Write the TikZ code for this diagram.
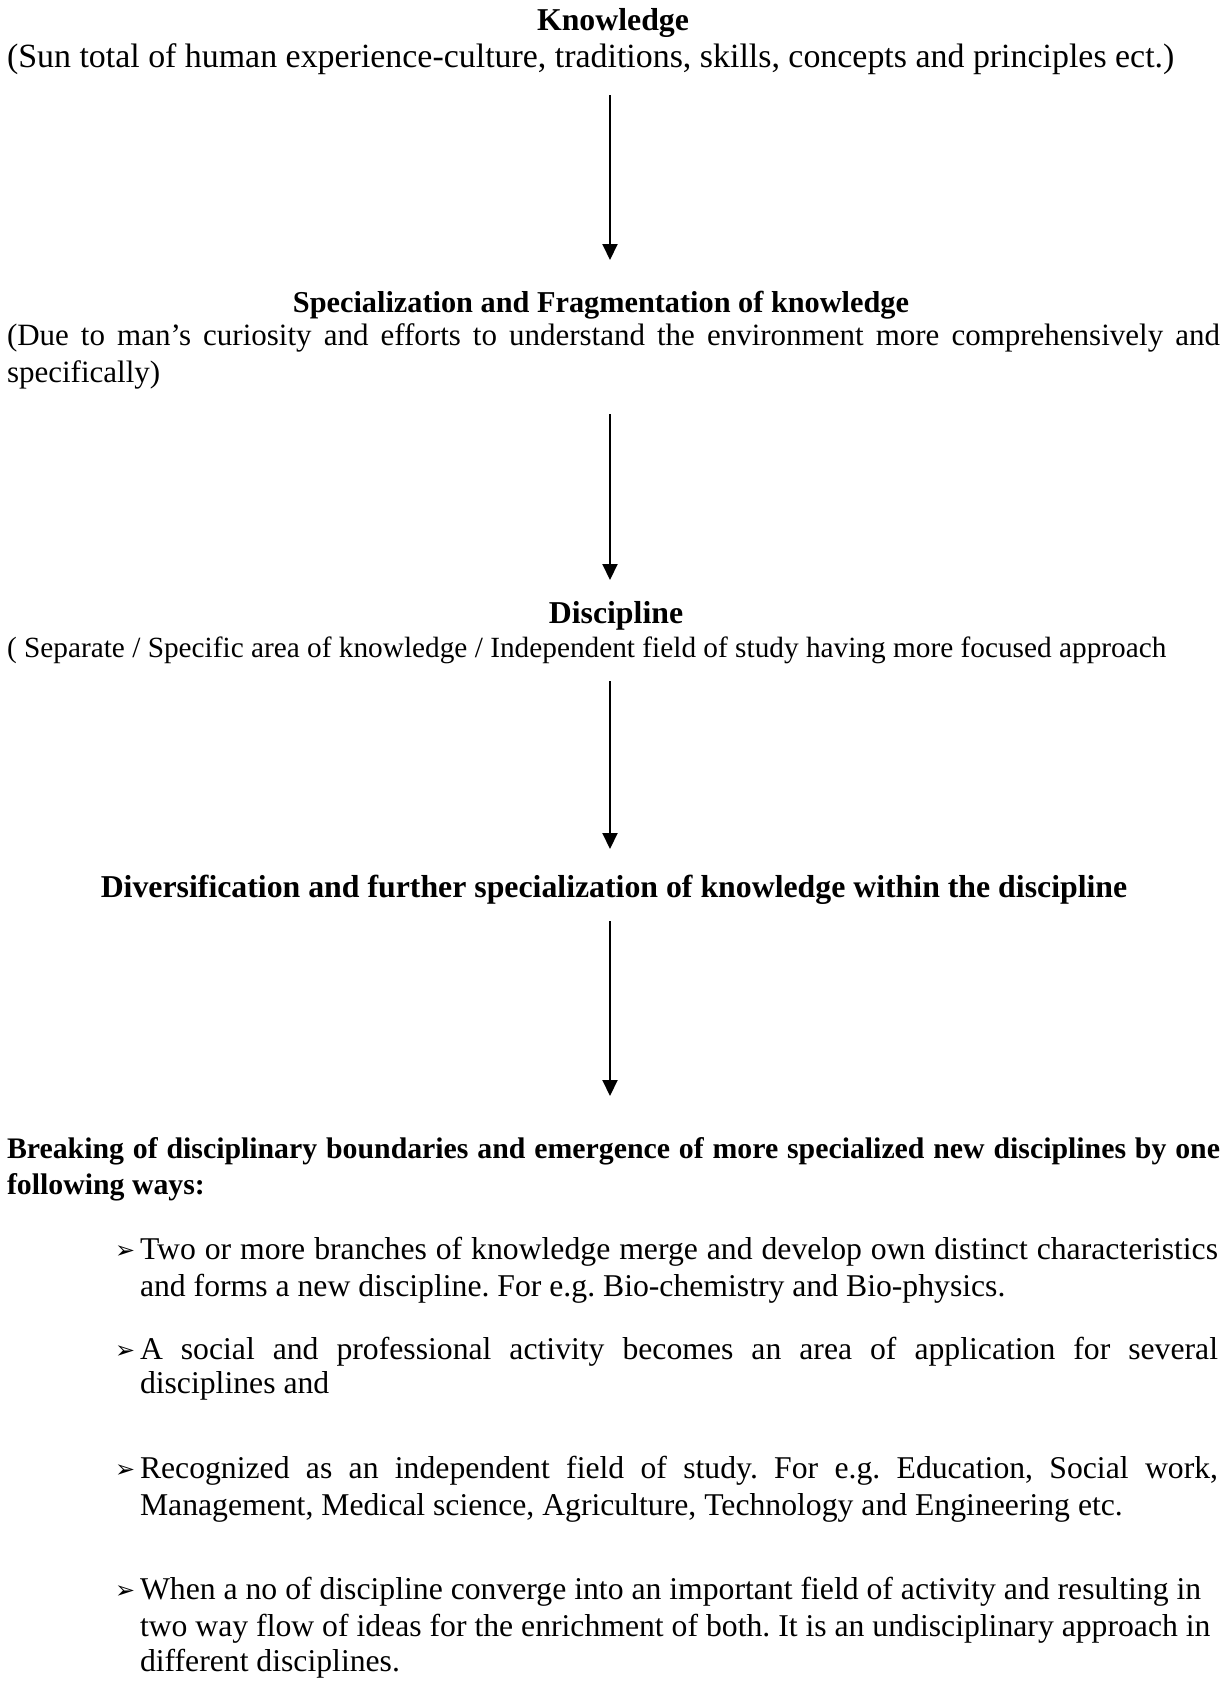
\documentclass[tikz,border=0pt]{standalone}
\usepackage{fontspec}
\setmainfont{Liberation Serif}
\newfontfamily\dejavu{DejaVu Sans}
\usetikzlibrary{arrows.meta}
\frenchspacing
\tikzset{
  every node/.style={inner sep=0pt, outer sep=0pt},
  headbf/.style={font=\fontsize{31.8}{37}\selectfont\bfseries},
  subbf/.style={font=\fontsize{30.3}{35}\selectfont\bfseries},
  suntext/.style={font=\fontsize{33.9}{38}\selectfont},
  duetext/.style={font=\fontsize{31}{36}\selectfont},
  septext/.style={font=\fontsize{29.3}{34}\selectfont},
  breakbf/.style={font=\fontsize{29.8}{35}\selectfont\bfseries},
  bodytext/.style={font=\fontsize{31.7}{37}\selectfont},
  bulletmark/.style={font=\fontsize{24}{24}\dejavu\bfseries},
  flow/.style={line width=2pt, -{Triangle[length=16pt,width=15pt]}}
}
\begin{document}
\begin{tikzpicture}[x=1pt,y=-1pt]
\fill[white] (0,0) rectangle (1228,1690);
\useasboundingbox (0,0) rectangle (1228,1690);

\node[headbf, anchor=base] (k) at (613,30) {Knowledge};
\node[suntext, anchor=base west] (k1) at (7,67) {(Sun total of human experience-culture, traditions, skills, concepts and principles ect.)};
\coordinate (a1s) at (610,95);
\coordinate (a1e) at (610,260);
\draw[flow] (a1s) -- (a1e);

\node[subbf, anchor=base] (s) at (601,312) {Specialization and Fragmentation of knowledge};
\node[duetext, anchor=base west] (s1) at (7,345) {\makebox[1213pt][s]{(Due to man’s curiosity and efforts to understand the environment more comprehensively and}};
\node[duetext, anchor=base west] (s2) at (7,382) {specifically)};
\coordinate (a2s) at (610,414);
\coordinate (a2e) at (610,580);
\draw[flow] (a2s) -- (a2e);

\node[headbf, anchor=base] (d) at (616,623) {Discipline};
\node[septext, anchor=base west] (d1) at (7,657) {( Separate / Specific area of knowledge / Independent field of study having more focused approach};
\coordinate (a3s) at (610,681);
\coordinate (a3e) at (610,849);
\draw[flow] (a3s) -- (a3e);

\node[headbf, anchor=base] (v) at (614,897) {Diversification and further specialization of knowledge within the discipline};
\coordinate (a4s) at (610,921);
\coordinate (a4e) at (610,1096);
\draw[flow] (a4s) -- (a4e);

\node[breakbf, anchor=base west] (b) at (7,1158) {\makebox[1213pt][s]{Breaking of disciplinary boundaries and emergence of more specialized new disciplines by one}};
\node[breakbf, anchor=base west] (b0) at (7,1194) {following ways:};

% bullet 1
\node[bulletmark, anchor=base west] (m1) at (115,1258) {➢};
\node[bodytext, anchor=base west] (p1a) at (140,1259) {\makebox[1078pt][s]{Two or more branches of knowledge merge and develop own distinct characteristics}};
\node[bodytext, anchor=base west] (p1b) at (140,1296) {and forms a new discipline. For e.g. Bio-chemistry and Bio-physics.};
% bullet 2
\node[bulletmark, anchor=base west] (m2) at (115,1358) {➢};
\node[bodytext, anchor=base west] (p2a) at (140,1359) {\makebox[1078pt][s]{A social and professional activity becomes an area of application for several}};
\node[bodytext, anchor=base west] (p2b) at (140,1393) {disciplines and};
% bullet 3
\node[bulletmark, anchor=base west] (m3) at (115,1477) {➢};
\node[bodytext, anchor=base west] (p3a) at (140,1478) {\makebox[1078pt][s]{Recognized as an independent field of study. For e.g. Education, Social work,}};
\node[bodytext, anchor=base west] (p3b) at (140,1515) {Management, Medical science, Agriculture, Technology and Engineering etc.};
% bullet 4
\node[bulletmark, anchor=base west] (m4) at (115,1598) {➢};
\node[bodytext, anchor=base west] (p4a) at (140,1599) {When a no of discipline converge into an important field of activity and resulting in};
\node[bodytext, anchor=base west] (p4b) at (140,1636) {two way flow of ideas for the enrichment of both. It is an undisciplinary approach in};
\node[bodytext, anchor=base west] (p4c) at (140,1671) {different disciplines.};
\end{tikzpicture}
\end{document}
